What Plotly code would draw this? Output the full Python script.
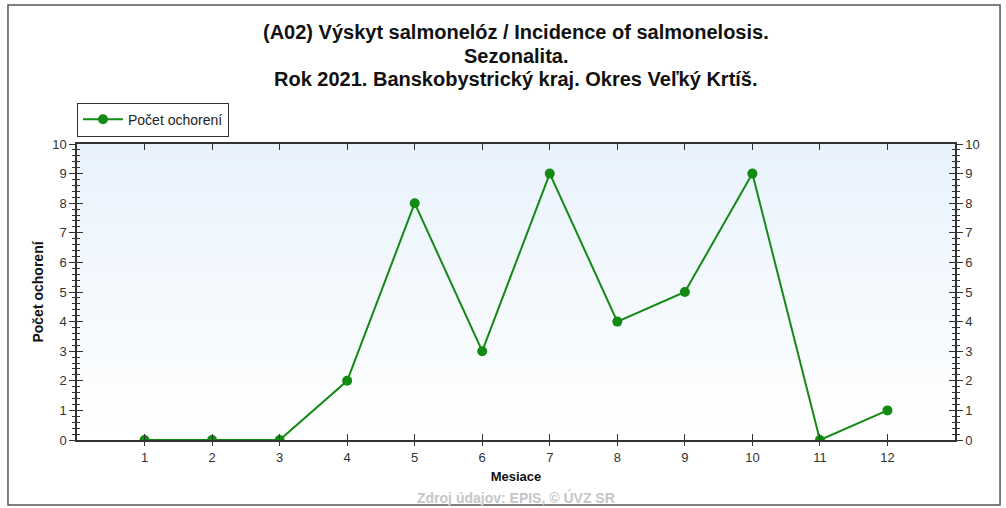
import plotly.graph_objects as go

months = [1, 2, 3, 4, 5, 6, 7, 8, 9, 10, 11, 12]
cases = [0, 0, 0, 2, 8, 3, 9, 4, 5, 9, 0, 1]
tick_vals = list(range(0, 11))
title_lines = [
    "(A02) Výskyt salmonelóz / Incidence of salmonelosis.",
    "Sezonalita.",
    "Rok 2021. Banskobystrický kraj. Okres Veľký Krtíš.",
]

GREEN = "#138a13"
FONT = "Liberation Sans, Arial, sans-serif"

fig = go.Figure()
fig.add_trace(go.Scatter(
    x=months, y=cases, mode="lines+markers", name="Počet ochorení",
    line=dict(color=GREEN, width=2), marker=dict(color=GREEN, size=10),
))

# gradient background
shapes = []
n = 40
for i in range(n):
    t = (i + 0.5) / n
    r = int(round(255 + (232 - 255) * t))
    g = int(round(255 + (242 - 255) * t))
    b = int(round(255 + (252 - 255) * t))
    shapes.append(dict(type="rect", xref="paper", yref="paper",
                       x0=0, x1=1, y0=i / n, y1=(i + 1) / n,
                       fillcolor=f"rgb({r},{g},{b})", line=dict(width=0), layer="below"))
# outer frame
shapes.append(dict(type="rect", xref="paper", yref="paper",
                   x0=-0.0786, x1=1.0513, y0=-0.2196, y1=1.4696,
                   line=dict(color="#555555", width=1.5), fillcolor="rgba(0,0,0,0)"))

tickfont = dict(family=FONT, size=13, color="#333333")

annotations = []
for txt, yy in zip(title_lines, [1.378, 1.297, 1.2196]):
    annotations.append(dict(
        text=f"<b>{txt}</b>", xref="paper", yref="paper", x=0.5, y=yy,
        xanchor="center", yanchor="middle", showarrow=False,
        font=dict(family=FONT, size=20, color="#111111"),
    ))
annotations.append(dict(
    text="<b>Zdroj údajov: EPIS, © ÚVZ SR</b>", xref="paper", yref="paper",
    x=0.5, y=-0.1926, xanchor="center", yanchor="middle", showarrow=False,
    font=dict(family=FONT, size=14, color="#c6c6c6"),
))

fig.update_layout(
    width=1006, height=508,
    margin=dict(l=77, r=51, t=144, b=68),
    paper_bgcolor="white", plot_bgcolor="white",
    shapes=shapes,
    showlegend=True,
    legend=dict(x=0, xanchor="left", y=1.025, yanchor="bottom",
                bordercolor="#333333", borderwidth=1, bgcolor="white",
                font=dict(family=FONT, size=14, color="#222222"),
                itemwidth=40, tracegroupgap=0),
    xaxis=dict(
        range=[0, 13], tickmode="array", tickvals=months, ticktext=[str(m) for m in months],
        ticks="inside", ticklen=6, tickcolor="#333333", mirror="ticks",
        showline=True, linecolor="#333333", linewidth=1.5, showgrid=False, zeroline=False,
        tickfont=tickfont, ticklabelstandoff=5,
        title=dict(text="<b>Mesiace</b>", font=dict(family=FONT, size=13, color="#111111"), standoff=8),
    ),
    xaxis2=dict(
        range=[0, 13], overlaying="x", side="bottom", tickmode="array", tickvals=months,
        showticklabels=False, ticks="outside", ticklen=5, tickcolor="#333333",
        showgrid=False, zeroline=False, showline=False,
    ),
    yaxis=dict(
        range=[0, 10], tickmode="array", tickvals=tick_vals,
        ticks="outside", ticklen=6, tickcolor="#333333",
        minor=dict(dtick=0.2, ticks="outside", ticklen=3, tickcolor="#333333"),
        showline=True, linecolor="#333333", linewidth=1.5, showgrid=False, zeroline=False,
        tickfont=tickfont,
        title=dict(text="<b>Počet ochorení</b>", font=dict(family=FONT, size=14, color="#111111"), standoff=5),
    ),
    yaxis3=dict(
        range=[0, 10], overlaying="y", side="left", tickmode="array", tickvals=tick_vals,
        showticklabels=False, ticks="inside", ticklen=6, tickcolor="#333333",
        minor=dict(dtick=0.2, ticks="inside", ticklen=3, tickcolor="#333333"),
        showgrid=False, zeroline=False, showline=False,
    ),
    yaxis2=dict(
        range=[0, 10], overlaying="y", side="right", tickmode="array", tickvals=tick_vals,
        ticks="outside", ticklen=6, tickcolor="#333333",
        minor=dict(dtick=0.2, ticks="outside", ticklen=3, tickcolor="#333333"),
        showline=True, linecolor="#333333", linewidth=1.5, showgrid=False, zeroline=False,
        tickfont=tickfont,
    ),
    yaxis4=dict(
        range=[0, 10], overlaying="y", side="right", tickmode="array", tickvals=tick_vals,
        showticklabels=False, ticks="inside", ticklen=6, tickcolor="#333333",
        minor=dict(dtick=0.2, ticks="inside", ticklen=3, tickcolor="#333333"),
        showgrid=False, zeroline=False, showline=False,
    ),
    annotations=annotations,
)

# invisible helper traces so the overlay axes are drawn
for xa, ya in [("x2", "y"), ("x", "y3"), ("x", "y2"), ("x", "y4")]:
    fig.add_trace(go.Scatter(x=[None], y=[None], xaxis=xa, yaxis=ya, showlegend=False,
                             hoverinfo="skip"))

fig.write_html("out.html", config={"displayModeBar": False},
               post_script="document.body.style.margin='0';")
